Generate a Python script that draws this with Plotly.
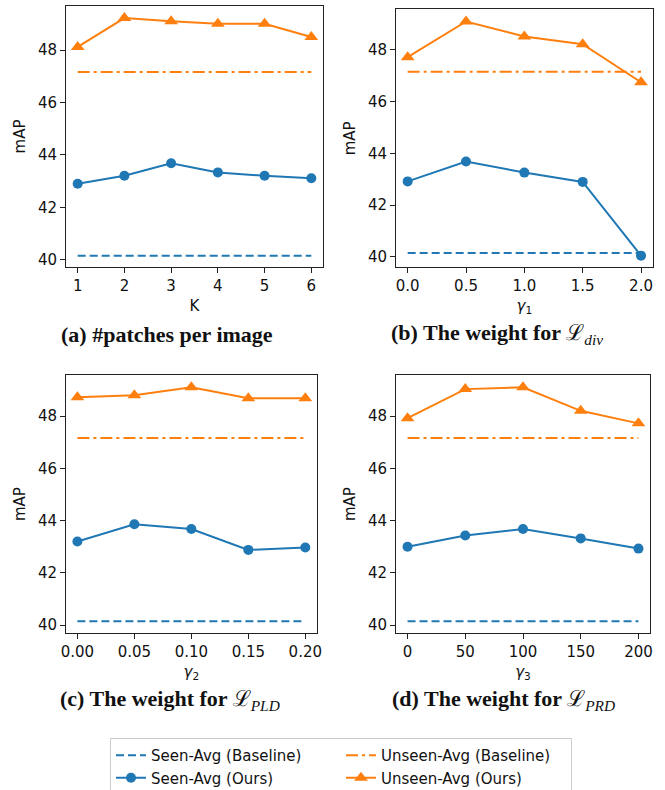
import plotly.graph_objects as go

# ---- data ----
k_vals = [1, 2, 3, 4, 5, 6]
k_seen_ours = [42.9, 43.2, 43.68, 43.33, 43.2, 43.11]
k_unseen_ours = [48.12, 49.22, 49.1, 49.0, 49.0, 48.5]

g1_vals = [0.0, 0.5, 1.0, 1.5, 2.0]
g1_seen_ours = [42.92, 43.69, 43.26, 42.9, 40.05]
g1_unseen_ours = [47.72, 49.1, 48.52, 48.22, 46.75]

g2_vals = [0.00, 0.05, 0.10, 0.15, 0.20]
g2_seen_ours = [43.2, 43.86, 43.68, 42.88, 42.97]
g2_unseen_ours = [48.72, 48.8, 49.1, 48.68, 48.68]

g3_vals = [0, 50, 100, 150, 200]
g3_seen_ours = [43.0, 43.43, 43.68, 43.32, 42.93]
g3_unseen_ours = [47.92, 49.03, 49.1, 48.2, 47.72]

seen_baseline = 40.15
unseen_baseline = 47.16

captions = [
    "(a) #patches per image",
    "(b) The weight for <span style='font-weight:normal'>ℒ<sub><i>div</i></sub></span>",
    "(c) The weight for <span style='font-weight:normal'>ℒ<sub><i>PLD</i></sub></span>",
    "(d) The weight for <span style='font-weight:normal'>ℒ<sub><i>PRD</i></sub></span>",
]
xtitles = ["K", "<i>γ</i><sub>1</sub>", "<i>γ</i><sub>2</sub>", "<i>γ</i><sub>3</sub>"]

BLUE = "#1f77b4"
ORANGE = "#ff7f0e"
W, H = 665, 790

panels = [
    dict(x=k_vals, seen=k_seen_ours, unseen=k_unseen_ours,
         xpx=(66, 323), ypx=(6, 267), xr=[0.75, 6.25], yr=[39.72, 49.68],
         tickvals=k_vals, fmt="d", cap=(167, 334)),
    dict(x=g1_vals, seen=g1_seen_ours, unseen=g1_unseen_ours,
         xpx=(396, 652.7), ypx=(9.3, 267.3), xr=[-0.1, 2.1], yr=[39.6, 49.57],
         tickvals=g1_vals, fmt=".1f", cap=(497, 334)),
    dict(x=g2_vals, seen=g2_seen_ours, unseen=g2_unseen_ours,
         xpx=(66, 316.7), ypx=(375, 633.3), xr=[-0.01, 0.21], yr=[39.69, 49.57],
         tickvals=g2_vals, fmt=".2f", cap=(170, 700)),
    dict(x=g3_vals, seen=g3_seen_ours, unseen=g3_unseen_ours,
         xpx=(396, 650), ypx=(375, 633.3), xr=[-10, 210], yr=[39.69, 49.57],
         tickvals=g3_vals, fmt="d", cap=(503, 700)),
]

fig = go.Figure()
layout_axes = {}
annotations = []

for i, p in enumerate(panels):
    n = "" if i == 0 else str(i + 1)
    xa, ya = "x" + n, "y" + n
    show = (i == 0)
    x0, x1 = p["x"][0], p["x"][-1]
    fig.add_trace(go.Scatter(
        x=[x0, x1], y=[seen_baseline, seen_baseline], mode="lines",
        line=dict(color=BLUE, width=2, dash="8px,4px"),
        name="Seen-Avg (Baseline)", showlegend=show, legendrank=1,
        xaxis=xa, yaxis=ya))
    fig.add_trace(go.Scatter(
        x=[x0, x1], y=[unseen_baseline, unseen_baseline], mode="lines",
        line=dict(color=ORANGE, width=2, dash="12px,4px,3px,4px"),
        name="Unseen-Avg (Baseline)", showlegend=show, legendrank=2,
        xaxis=xa, yaxis=ya))
    fig.add_trace(go.Scatter(
        x=p["x"], y=p["seen"], mode="lines+markers",
        line=dict(color=BLUE, width=2),
        marker=dict(symbol="circle", size=10, color=BLUE),
        name="Seen-Avg (Ours)", showlegend=show, legendrank=3,
        xaxis=xa, yaxis=ya))
    fig.add_trace(go.Scatter(
        x=p["x"], y=p["unseen"], mode="lines+markers",
        line=dict(color=ORANGE, width=2),
        marker=dict(symbol="triangle-up", size=12, color=ORANGE),
        name="Unseen-Avg (Ours)", showlegend=show, legendrank=4,
        xaxis=xa, yaxis=ya))

    axfont = dict(family="DejaVu Sans", size=15, color="#111")
    layout_axes["xaxis" + n] = dict(
        domain=[p["xpx"][0] / W, p["xpx"][1] / W], anchor=ya,
        range=p["xr"], tickvals=p["tickvals"], automargin=False,
        tickformat=p["fmt"], ticks="outside", ticklen=5, tickcolor="#222",
        showline=True, linecolor="#222", linewidth=1, mirror=True,
        showgrid=False, zeroline=False, tickfont=axfont,
        title=dict(text=xtitles[i], font=axfont, standoff=6))
    layout_axes["yaxis" + n] = dict(
        domain=[1 - p["ypx"][1] / H, 1 - p["ypx"][0] / H], anchor=xa,
        range=p["yr"], tickvals=[40, 42, 44, 46, 48], automargin=False,
        ticks="outside", ticklen=5, tickcolor="#222",
        showline=True, linecolor="#222", linewidth=1, mirror=True,
        showgrid=False, zeroline=False, tickfont=axfont,
        title=dict(text="mAP", font=axfont, standoff=8))
    annotations.append(dict(
        text="<b>" + captions[i] + "</b>",
        x=p["cap"][0] / W, y=1 - p["cap"][1] / H, xref="paper", yref="paper",
        xanchor="center", yanchor="middle", showarrow=False,
        font=dict(family="Liberation Serif", size=22, color="#111")))

fig.update_layout(
    width=W, height=H,
    margin=dict(l=0, r=0, t=0, b=0, autoexpand=False),
    paper_bgcolor="white", plot_bgcolor="white",
    annotations=annotations,
    legend=dict(
        orientation="h", x=110 / W, y=1 - 738 / H, xanchor="left", yanchor="top",
        entrywidth=185, bordercolor="#cccccc", borderwidth=1,
        font=dict(family="DejaVu Sans", size=15, color="#111"),
        traceorder="normal", itemwidth=30),
    **layout_axes,
)

fig.write_html(
    "out.html",
    config={"displayModeBar": False},
    post_script="document.body.style.margin='0px';document.body.style.overflow='hidden';",
)
